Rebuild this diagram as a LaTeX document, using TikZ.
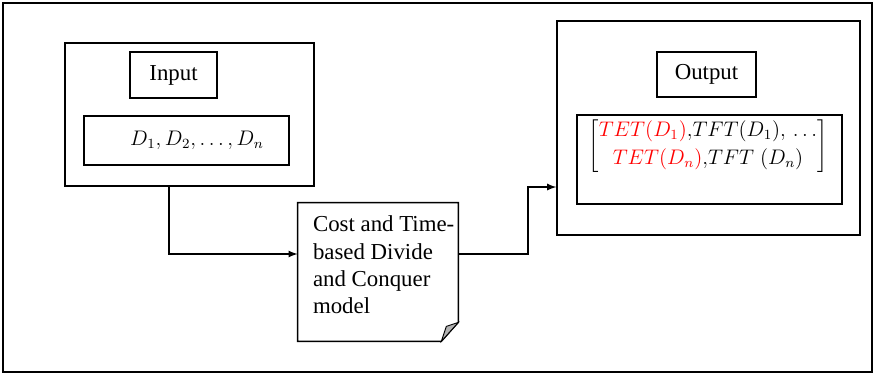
\documentclass[tikz,border=0pt]{standalone}
\usepackage{fontspec}
\setmainfont{Liberation Serif}
\usetikzlibrary{positioning}
\begin{document}
\begin{tikzpicture}[
                    x=0.02cm, y=-0.02cm,
                    >=latex,
                    font=\fontsize{13}{15.5}\selectfont,
                    box/.style={draw, rectangle, line width=0.8pt, inner sep=0pt},
                    link/.style={draw, line width=0.8pt}
                    ]

                    \useasboundingbox (0,0) rectangle (875,376);
                    \draw[line width=0.6pt] (3,3) rectangle (872,372);

                    % input side
                    \node [box, minimum width=4.98cm, minimum height=2.86cm] (inbox) at (189.5,114.5) {};
                    \node [box, minimum width=1.74cm, minimum height=0.92cm] (inlabel) at (173.5,75) {Input};
                    \node [box, minimum width=4.1cm, minimum height=0.98cm] (dbox) at (186.5,140.5) {};
                    \node [font=\fontsize{12}{14}\selectfont] (dlist) at (197,140) {$D_1, D_2, \ldots, D_n$};

                    % model document
                    \node [minimum width=3.2cm, minimum height=2.76cm, align=left] (model) at (378,272) {};
                    \node [anchor=north west, align=left, inner sep=0pt] (modeltext) at ([xshift=0.3cm, yshift=-0.26cm]model.north west)
                        {Cost and Time-\\based Divide\\and Conquer\\model};
                    \draw[line width=0.8pt] (model.north west) -- (model.north east) -- ([yshift=0.38cm]model.south east)
                        -- ([xshift=-0.34cm]model.south east) -- (model.south west) -- cycle;
                    \filldraw[fill=gray!60, line width=0.5pt] ([xshift=-0.34cm]model.south east) -- ([xshift=-0.24cm, yshift=0.3cm]model.south east)
                        -- ([yshift=0.38cm]model.south east) -- cycle;

                    % output side
                    \node [box, minimum width=6.06cm, minimum height=4.28cm] (outbox) at (708.5,128) {};
                    \node [box, minimum width=1.98cm, minimum height=0.9cm] (outlabel) at (706.5,74.5) {Output};
                    \node [box, minimum width=5.3cm, minimum height=1.78cm] (tetbox) at (709.5,159.5) {};
                    \node [font=\fontsize{11.5}{13}\selectfont] (tet) at (708,146) {$\left[\begin{array}{@{}c@{}}
                        \textcolor{red}{TET(D_1)}{,}TFT(D_1){,}\,\ldots\\[3pt]
                        \textcolor{red}{TET(D_n)}{,}TFT\;(D_n)
                        \end{array}\right]$};

                    \coordinate (bend1) at (169,254);
                    \coordinate (bend2) at (528,254);
                    \coordinate (bend3) at (528,187);

                    \draw[link,->] (bend1 |- inbox.south) -- (bend1) -- (model.west |- bend1);
                    \draw[link,->] (model.east |- bend2) -- (bend2) -- (bend3) -- (outbox.west |- bend3);
                \end{tikzpicture}
\end{document}
